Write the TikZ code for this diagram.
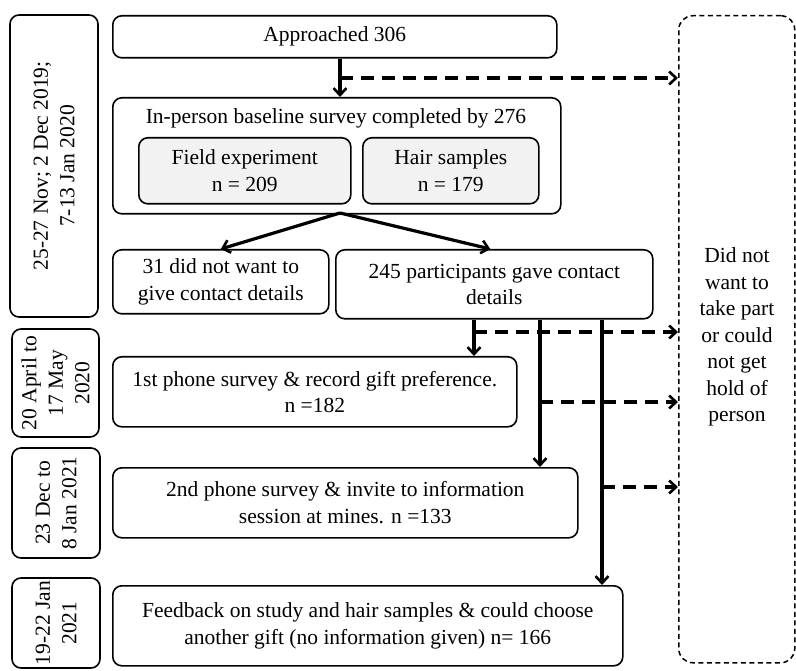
\documentclass[tikz,border=0pt]{standalone}
\usepackage{fontspec}
\setmainfont{Liberation Serif}
\usetikzlibrary{arrows.meta,calc}
\begin{document}
\begin{tikzpicture}[x=1pt,y=-1pt,
  txt/.style={font=\rmfamily\fontsize{21.5}{26.5}\selectfont},
  box/.style={draw, line width=1.6pt, rounded corners=9pt, anchor=north west, align=center, inner sep=2pt, txt},
  gbox/.style={box, fill=gray!10},
  datebox/.style={box, rotate=90, anchor=center},
  arr/.style={line width=3.2pt, -{Straight Barb[length=7pt,width=13pt,line width=2.6pt]}},
  darr/.style={arr, dash pattern=on 13pt off 8pt}]
\useasboundingbox (0,0) rectangle (796,671);
% date boxes
\node[datebox, minimum width=302pt, minimum height=88pt] (d1) at (54,166) {25-27 Nov; 2 Dec 2019;\\7-13 Jan 2020};
\node[datebox, minimum width=108pt, minimum height=87pt] (d2) at (55.5,383) {20 April to\\17 May\\2020};
\node[datebox, minimum width=110pt, minimum height=88pt] (d3) at (56,503) {23 Dec to\\8 Jan 2021};
\node[datebox, minimum width=90pt, minimum height=88pt] (d4) at (56,623) {19-22 Jan\\2021};
% main boxes
\node[box, minimum width=444pt, minimum height=42pt] (appr) at (112,15) {Approached 306};
\node[box, minimum width=448pt, minimum height=116pt] (base) at (112,97) {};
\node[txt, anchor=center] (basel) at (336,118) {In-person baseline survey completed by 276};
\node[gbox, minimum width=212pt, minimum height=66pt] (field) at (138,137) {Field experiment\\n = 209};
\node[gbox, minimum width=176pt, minimum height=66pt] (hair) at (362,137) {Hair samples\\n = 179};
\node[box, minimum width=216pt, minimum height=64pt] (nocon) at (112,249) {31 did not want to\\give contact details};
\node[box, minimum width=317pt, minimum height=69pt] (con) at (335,249) {245 participants gave contact\\details};
\node[box, minimum width=404pt, minimum height=70pt] (ph1) at (112,356) {1st phone survey \& record gift preference.\\n =182};
\node[box, minimum width=465pt, minimum height=70pt] (ph2) at (112,467) {2nd phone survey \& invite to information\\session at mines. n =133};
\node[box, minimum width=510pt, minimum height=80pt] (fb) at (112,585) {Feedback on study and hair samples \& could choose\\another gift (no information given) n= 166};
% dropout box
\node[box, dash pattern=on 5pt off 3.5pt, line width=1.5pt, rounded corners=14pt, minimum width=116pt, minimum height=647pt] (drop) at (678,15) {};
\node[txt, align=center] (dropl) at (737,337) {Did not\\want to\\take part\\or could\\not get\\hold of\\person};
% connectors
\coordinate (a1) at (340,57);
\coordinate (a2) at (340,97);
\draw[arr] (appr.south -| a1) -- (base.north -| a2);
\coordinate (b1) at (340,78);
\draw[darr] (b1) -- (b1 -| drop.west);
\coordinate (c0) at (340,213);
\draw[arr] (c0) -- (nocon.north);
\draw[arr] (c0) -- ($(con.north)+(-4,0)$);
\coordinate (x1) at (474,0);
\coordinate (x2) at (540,0);
\coordinate (x3) at (602,0);
\draw[arr] (con.south -| x1) -- (ph1.north -| x1);
\draw[arr] (con.south -| x2) -- (ph2.north -| x2);
\draw[arr] (con.south -| x3) -- (fb.north -| x3);
\coordinate (e1) at (474,332);
\coordinate (e2) at (540,402);
\coordinate (e3) at (602,487);
\draw[darr] (e1) -- (e1 -| drop.west);
\draw[darr] (e2) -- (e2 -| drop.west);
\draw[darr] (e3) -- (e3 -| drop.west);
\end{tikzpicture}
\end{document}
